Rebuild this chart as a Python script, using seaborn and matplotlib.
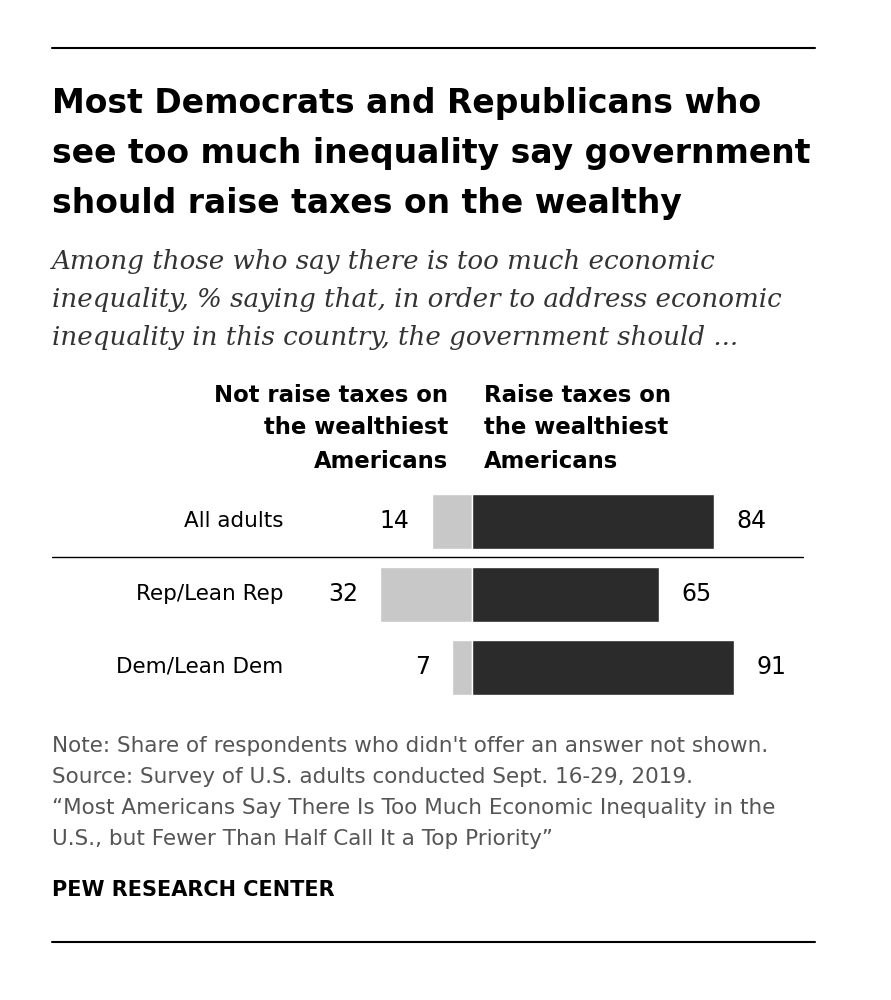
import matplotlib
matplotlib.use("Agg")
import matplotlib.pyplot as plt
import seaborn as sns

groups = ["All adults", "Rep/Lean Rep", "Dem/Lean Dem"]
not_raise = [14, 32, 7]
raise_taxes = [84, 65, 91]

sns.set_style("white")
plt.rcParams["font.family"] = ["DejaVu Sans"]

W, H = 891, 1000
fig = plt.figure(figsize=(W / 100, H / 100), dpi=100)
ax = fig.add_axes([0, 0, 1, 1])
ax.set_xlim(0, W)
ax.set_ylim(H, 0)
ax.axis("off")

zero_x, scale = 472, 2.88
row_y = [521 + i * 73 for i in range(len(groups))]
bar_h = 55

# bars
ax.barh(row_y, [-v * scale for v in not_raise], left=zero_x, height=bar_h, color="#c8c8c8")
ax.barh(row_y, [v * scale for v in raise_taxes], left=zero_x, height=bar_h, color="#2b2b2b")
for y, g, n, r in zip(row_y, groups, not_raise, raise_taxes):
    ax.text(283, y, g, ha="right", va="center", fontsize=15.5, color="black")
    ax.text(zero_x - n * scale - 22, y, str(n), ha="right", va="center", fontsize=17, color="black")
    ax.text(zero_x + r * scale + 22, y, str(r), ha="left", va="center", fontsize=17, color="black")

# rules
ax.plot([52, 815], [48, 48], color="black", lw=1.5)
ax.plot([52, 803], [557, 557], color="black", lw=1)
ax.plot([52, 815], [942, 942], color="black", lw=1.5)

title = ["Most Democrats and Republicans who",
         "see too much inequality say government",
         "should raise taxes on the wealthy"]
for i, t in enumerate(title):
    ax.text(52, 104 + i * 50, t, ha="left", va="center", fontsize=23.8,
            fontweight="bold", color="black")

sub = ["Among those who say there is too much economic",
       "inequality, % saying that, in order to address economic",
       "inequality in this country, the government should ..."]
for i, t in enumerate(sub):
    ax.text(52, 262 + i * 38, t, ha="left", va="center", fontsize=18.8,
            family="DejaVu Serif", style="italic", color="#333333")

for i, t in enumerate(["Not raise taxes on", "the wealthiest", "Americans"]):
    ax.text(448, 395 + i * 33, t, ha="right", va="center", fontsize=16.4,
            fontweight="bold", color="black")
for i, t in enumerate(["Raise taxes on", "the wealthiest", "Americans"]):
    ax.text(484, 395 + i * 33, t, ha="left", va="center", fontsize=16.4,
            fontweight="bold", color="black")

notes = ["Note: Share of respondents who didn't offer an answer not shown.",
         "Source: Survey of U.S. adults conducted Sept. 16-29, 2019.",
         "\u201cMost Americans Say There Is Too Much Economic Inequality in the",
         "U.S., but Fewer Than Half Call It a Top Priority\u201d"]
for i, t in enumerate(notes):
    ax.text(52, 746 + i * 31, t, ha="left", va="center", fontsize=15.5, color="#555555")
ax.text(52, 890, "PEW RESEARCH CENTER", ha="left", va="center", fontsize=15,
        fontweight="bold", color="black")

fig.savefig("out.png", dpi=100)
